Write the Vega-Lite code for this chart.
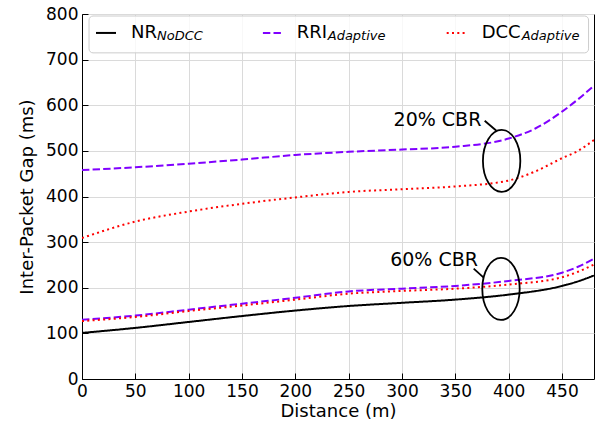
{
  "$schema": "https://vega.github.io/schema/vega-lite/v6.json",
  "width": 512,
  "height": 365,
  "autosize": "none",
  "padding": {"left": 82, "top": 14, "right": 6, "bottom": 51},
  "config": {
    "font": "DejaVu Sans",
    "view": {"stroke": "black", "strokeWidth": 1},
    "axis": {
      "grid": true,
      "gridColor": "#dadada",
      "gridWidth": 1,
      "domainColor": "black",
      "domainWidth": 1,
      "tickColor": "black",
      "tickSize": -6,
      "labelFontSize": 17,
      "labelColor": "black",
      "labelFont": "DejaVu Sans",
      "labelFlush": false,
      "titleFont": "DejaVu Sans",
      "titleFontSize": 18,
      "titleFontWeight": "normal",
      "titleColor": "black"
    }
  },
  "datasets": {
    "curves": [
      {"scheme": "NR", "cbr": "60%", "d": 0, "v": 101},
      {"scheme": "NR", "cbr": "60%", "d": 50, "v": 112},
      {"scheme": "NR", "cbr": "60%", "d": 100, "v": 125},
      {"scheme": "NR", "cbr": "60%", "d": 150, "v": 138},
      {"scheme": "NR", "cbr": "60%", "d": 200, "v": 150},
      {"scheme": "NR", "cbr": "60%", "d": 250, "v": 160},
      {"scheme": "NR", "cbr": "60%", "d": 300, "v": 167},
      {"scheme": "NR", "cbr": "60%", "d": 350, "v": 174},
      {"scheme": "NR", "cbr": "60%", "d": 400, "v": 185},
      {"scheme": "NR", "cbr": "60%", "d": 450, "v": 204},
      {"scheme": "NR", "cbr": "60%", "d": 465, "v": 214},
      {"scheme": "NR", "cbr": "60%", "d": 480, "v": 227},
      {"scheme": "RRI", "cbr": "60%", "d": 0, "v": 130},
      {"scheme": "RRI", "cbr": "60%", "d": 50, "v": 139},
      {"scheme": "RRI", "cbr": "60%", "d": 100, "v": 152},
      {"scheme": "RRI", "cbr": "60%", "d": 150, "v": 165},
      {"scheme": "RRI", "cbr": "60%", "d": 200, "v": 178},
      {"scheme": "RRI", "cbr": "60%", "d": 250, "v": 192},
      {"scheme": "RRI", "cbr": "60%", "d": 300, "v": 198},
      {"scheme": "RRI", "cbr": "60%", "d": 350, "v": 204},
      {"scheme": "RRI", "cbr": "60%", "d": 400, "v": 215},
      {"scheme": "RRI", "cbr": "60%", "d": 450, "v": 233},
      {"scheme": "RRI", "cbr": "60%", "d": 465, "v": 246},
      {"scheme": "RRI", "cbr": "60%", "d": 480, "v": 264},
      {"scheme": "DCC", "cbr": "60%", "d": 0, "v": 127},
      {"scheme": "DCC", "cbr": "60%", "d": 50, "v": 136},
      {"scheme": "DCC", "cbr": "60%", "d": 100, "v": 149},
      {"scheme": "DCC", "cbr": "60%", "d": 150, "v": 161},
      {"scheme": "DCC", "cbr": "60%", "d": 200, "v": 174},
      {"scheme": "DCC", "cbr": "60%", "d": 250, "v": 187},
      {"scheme": "DCC", "cbr": "60%", "d": 300, "v": 193},
      {"scheme": "DCC", "cbr": "60%", "d": 350, "v": 198},
      {"scheme": "DCC", "cbr": "60%", "d": 400, "v": 207},
      {"scheme": "DCC", "cbr": "60%", "d": 450, "v": 223},
      {"scheme": "DCC", "cbr": "60%", "d": 465, "v": 235},
      {"scheme": "DCC", "cbr": "60%", "d": 480, "v": 251},
      {"scheme": "RRI", "cbr": "20%", "d": 0, "v": 458},
      {"scheme": "RRI", "cbr": "20%", "d": 50, "v": 464},
      {"scheme": "RRI", "cbr": "20%", "d": 100, "v": 472},
      {"scheme": "RRI", "cbr": "20%", "d": 150, "v": 481},
      {"scheme": "RRI", "cbr": "20%", "d": 200, "v": 491},
      {"scheme": "RRI", "cbr": "20%", "d": 250, "v": 498},
      {"scheme": "RRI", "cbr": "20%", "d": 300, "v": 503},
      {"scheme": "RRI", "cbr": "20%", "d": 350, "v": 509},
      {"scheme": "RRI", "cbr": "20%", "d": 400, "v": 527},
      {"scheme": "RRI", "cbr": "20%", "d": 425, "v": 549},
      {"scheme": "RRI", "cbr": "20%", "d": 450, "v": 586},
      {"scheme": "RRI", "cbr": "20%", "d": 465, "v": 613},
      {"scheme": "RRI", "cbr": "20%", "d": 480, "v": 643},
      {"scheme": "DCC", "cbr": "20%", "d": 0, "v": 309},
      {"scheme": "DCC", "cbr": "20%", "d": 50, "v": 345},
      {"scheme": "DCC", "cbr": "20%", "d": 100, "v": 367},
      {"scheme": "DCC", "cbr": "20%", "d": 150, "v": 384},
      {"scheme": "DCC", "cbr": "20%", "d": 200, "v": 398},
      {"scheme": "DCC", "cbr": "20%", "d": 250, "v": 410},
      {"scheme": "DCC", "cbr": "20%", "d": 300, "v": 416},
      {"scheme": "DCC", "cbr": "20%", "d": 350, "v": 422},
      {"scheme": "DCC", "cbr": "20%", "d": 400, "v": 435},
      {"scheme": "DCC", "cbr": "20%", "d": 425, "v": 455},
      {"scheme": "DCC", "cbr": "20%", "d": 450, "v": 484},
      {"scheme": "DCC", "cbr": "20%", "d": 465, "v": 500},
      {"scheme": "DCC", "cbr": "20%", "d": 480, "v": 524}
    ]
  },
  "encoding": {
    "x": {
      "type": "quantitative",
      "scale": {"domain": [0, 480], "nice": false, "zero": false},
      "axis": {
        "values": [0, 50, 100, 150, 200, 250, 300, 350, 400, 450],
        "title": "Distance (m)",
        "labelPadding": 10,
        "titlePadding": 3
      }
    },
    "y": {
      "type": "quantitative",
      "scale": {"domain": [0, 800], "nice": false, "zero": false},
      "axis": {
        "values": [0, 100, 200, 300, 400, 500, 600, 700, 800],
        "title": "Inter-Packet Gap (ms)",
        "labelPadding": 10,
        "titlePadding": 9
      }
    }
  },
  "layer": [
    {
      "data": {"name": "curves"},
      "mark": {"type": "line", "interpolate": "monotone", "strokeWidth": 2, "clip": true},
      "encoding": {
        "x": {"field": "d", "type": "quantitative"},
        "y": {"field": "v", "type": "quantitative"},
        "color": {
          "field": "scheme",
          "type": "nominal",
          "scale": {"domain": ["NR", "RRI", "DCC"], "range": ["#000000", "#8000ff", "#ff0000"]},
          "legend": null
        },
        "strokeDash": {
          "field": "scheme",
          "type": "nominal",
          "scale": {"domain": ["NR", "RRI", "DCC"], "range": [[1, 0], [7.4, 3.2], [2, 3.3]]},
          "legend": null
        },
        "detail": {"field": "cbr", "type": "nominal"}
      }
    },
    {
      "data": {"values": [{}]},
      "mark": {
        "type": "point",
        "shape": "M0,-1 C0.333,-1 0.603,-0.552 0.603,0 C0.603,0.552 0.333,1 0,1 C-0.333,1 -0.603,0.552 -0.603,0 C-0.603,-0.552 -0.333,-1 0,-1 Z",
        "size": 3844,
        "filled": false,
        "stroke": "black",
        "strokeWidth": 1.8,
        "opacity": 1
      },
      "encoding": {"x": {"datum": 393.4}, "y": {"datum": 478}}
    },
    {
      "data": {"values": [{}]},
      "mark": {
        "type": "point",
        "shape": "M0,-1 C0.333,-1 0.603,-0.552 0.603,0 C0.603,0.552 0.333,1 0,1 C-0.333,1 -0.603,0.552 -0.603,0 C-0.603,-0.552 -0.333,-1 0,-1 Z",
        "size": 3844,
        "filled": false,
        "stroke": "black",
        "strokeWidth": 1.8,
        "opacity": 1
      },
      "encoding": {"x": {"datum": 392.8}, "y": {"datum": 197.4}}
    },
    {
      "data": {"values": [{}]},
      "mark": {"type": "rule", "stroke": "black", "strokeWidth": 1.8},
      "encoding": {"x": {"datum": 377.5}, "x2": {"datum": 388.5}, "y": {"datum": 566}, "y2": {"datum": 544}}
    },
    {
      "data": {"values": [{}]},
      "mark": {"type": "rule", "stroke": "black", "strokeWidth": 1.8},
      "encoding": {"x": {"datum": 367.2}, "x2": {"datum": 376.6}, "y": {"datum": 242}, "y2": {"datum": 222.3}}
    },
    {
      "data": {"values": [{}]},
      "mark": {"type": "text", "text": "20% CBR", "align": "right", "baseline": "alphabetic", "fontSize": 19, "font": "DejaVu Sans", "color": "black"},
      "encoding": {"x": {"datum": 374.4}, "y": {"datum": 553.7}}
    },
    {
      "data": {"values": [{}]},
      "mark": {"type": "text", "text": "60% CBR", "align": "right", "baseline": "alphabetic", "fontSize": 19, "font": "DejaVu Sans", "color": "black"},
      "encoding": {"x": {"datum": 371.2}, "y": {"datum": 247}}
    },
    {
      "data": {"values": [{}]},
      "mark": {"type": "rect", "fill": "white", "fillOpacity": 0.8, "stroke": "#cccccc", "strokeWidth": 1, "cornerRadius": 4},
      "encoding": {"x": {"datum": 6.6}, "x2": {"datum": 474.9}, "y": {"datum": 795.6}, "y2": {"datum": 714.8}}
    },
    {
      "data": {"values": [{}]},
      "mark": {"type": "rule", "stroke": "#000000", "strokeWidth": 2},
      "encoding": {"x": {"datum": 13.1}, "x2": {"datum": 31.9}, "y": {"datum": 758.5}}
    },
    {
      "data": {"values": [{}]},
      "mark": {"type": "rule", "stroke": "#8000ff", "strokeWidth": 2, "strokeDash": [7.4, 3.2]},
      "encoding": {"x": {"datum": 169.6}, "x2": {"datum": 189}, "y": {"datum": 758.5}}
    },
    {
      "data": {"values": [{}]},
      "mark": {"type": "rule", "stroke": "#ff0000", "strokeWidth": 2, "strokeDash": [2, 3.3]},
      "encoding": {"x": {"datum": 341.9}, "x2": {"datum": 360}, "y": {"datum": 758.5}}
    },
    {
      "data": {"values": [{}]},
      "mark": {"type": "text", "text": "NR", "align": "left", "baseline": "alphabetic", "fontSize": 18, "font": "DejaVu Sans", "color": "black"},
      "encoding": {"x": {"datum": 45.9}, "y": {"datum": 748}}
    },
    {
      "data": {"values": [{}]},
      "mark": {"type": "text", "text": "NoDCC", "align": "left", "baseline": "alphabetic", "fontSize": 13, "fontStyle": "italic", "font": "DejaVu Sans", "color": "black"},
      "encoding": {"x": {"datum": 70.3}, "y": {"datum": 742}}
    },
    {
      "data": {"values": [{}]},
      "mark": {"type": "text", "text": "RRI", "align": "left", "baseline": "alphabetic", "fontSize": 18, "font": "DejaVu Sans", "color": "black"},
      "encoding": {"x": {"datum": 201.4}, "y": {"datum": 748}}
    },
    {
      "data": {"values": [{}]},
      "mark": {"type": "text", "text": "Adaptive", "align": "left", "baseline": "alphabetic", "fontSize": 13, "fontStyle": "italic", "font": "DejaVu Sans", "color": "black"},
      "encoding": {"x": {"datum": 230.4}, "y": {"datum": 742}}
    },
    {
      "data": {"values": [{}]},
      "mark": {"type": "text", "text": "DCC", "align": "left", "baseline": "alphabetic", "fontSize": 18, "font": "DejaVu Sans", "color": "black"},
      "encoding": {"x": {"datum": 374.7}, "y": {"datum": 748}}
    },
    {
      "data": {"values": [{}]},
      "mark": {"type": "text", "text": "Adaptive", "align": "left", "baseline": "alphabetic", "fontSize": 13, "fontStyle": "italic", "font": "DejaVu Sans", "color": "black"},
      "encoding": {"x": {"datum": 412.2}, "y": {"datum": 742}}
    }
  ]
}
